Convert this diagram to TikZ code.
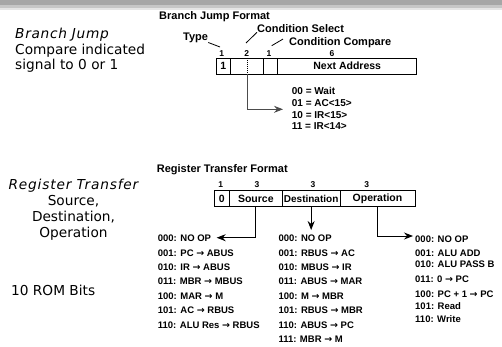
\documentclass[tikz,border=0pt]{standalone}
\usepackage{fontspec}
\setmainfont{Liberation Sans}
\newfontfamily\handfont{DejaVu Sans}
\newfontfamily\arrowfont{DejaVu Sans}
\usetikzlibrary{arrows.meta, positioning}
\newcommand{\toarr}{{\arrowfont\bfseries →}}

\begin{document}
\begin{tikzpicture}[
    x=1pt, y=-1pt,
    field/.style={draw, line width=0.9pt, minimum height=16pt, inner sep=0pt, font=\fontsize{10.5}{12}\selectfont\bfseries},
    bits/.style={anchor=base, inner sep=0pt, font=\fontsize{8.5}{10}\selectfont\bfseries},
    title/.style={anchor=base west, inner sep=0pt, font=\fontsize{11}{13}\selectfont\bfseries},
    codes/.style={anchor=north west, align=left, inner sep=0pt, font=\fontsize{9.5}{14.4}\selectfont\bfseries},
    note/.style={inner sep=0pt, font=\handfont\fontsize{13.7}{15.5}\selectfont},
    lead/.style={line width=0.8pt},
    arrow/.style={-{Stealth[length=9pt, width=7pt, inset=3pt]}, line width=0.9pt}
]
\fill[white] (0,0) rectangle (502,346);
\useasboundingbox (0,0) rectangle (502,346);

% slide band
\fill[gray!70] (0,0) rectangle (502,5);
\fill[gray!45] (0,5) rectangle (502,8);
\fill[gray!20] (0,8) rectangle (502,10);

% Left notes
\node[note, anchor=north west, align=left] (bjnote) at (15,27.9) {{\itshape\addfontfeature{LetterSpace=5}Branch Jump}\\Compare indicated\\signal to 0 or 1};
\node[note, anchor=north, align=center, font=\handfont\fontsize{13.7}{16.2}\selectfont] (rtnote) at (73.5,178.6) {{\itshape\addfontfeature{LetterSpace=6}Register Transfer}\\Source,\\Destination,\\Operation};
\node[note, anchor=base west] (rombits) at (11,295.7) {10 ROM Bits};

% Branch Jump Format
\node[title] (bjtitle) at (159,19) {Branch Jump Format};
\node[title] (type) at (183,40) {Type};
\node[title] (csel) at (257,32) {Condition Select};
\node[title] (ccmp) at (289,45.5) {Condition Compare};

\node[bits] (bj1) at (221.7,56.3) {1};
\node[bits] (bj2) at (246.7,56.3) {2};
\node[bits] (bj3) at (269,56.3) {1};
\node[bits] (bj4) at (332,56.3) {6};

\node[field, minimum width=14.7pt, minimum height=15.7pt] (b1) at (223.35,66.15) {1};
\node[field, minimum width=32.6pt, minimum height=15.7pt] (b2) at (247,66.15) {};
\node[field, minimum width=14.4pt, minimum height=15.7pt] (b3) at (270.5,66.15) {};
\node[field, minimum width=139pt, minimum height=15.7pt] (b4) at (347.2,66.15) {Next Address};

\coordinate (typeend) at (220,47);
\coordinate (cselend) at (246,43);
\coordinate (ccmpend) at (271.7,45.7);
\draw[lead] (type.south east) -- (typeend);
\draw[lead] (csel.south west) -- (cselend);
\draw[lead] ([xshift=-6pt, yshift=3.6pt]ccmp.west) -- (ccmpend);

\node[codes, font=\fontsize{10}{11.7}\selectfont\bfseries] (cond) at (291.7,87.4) {00 = Wait\\01 = AC<15>\\10 = IR<15>\\11 = IR<14>};

\coordinate (condtip) at (283,109.3);
\draw[dash pattern=on 1pt off 1pt, line width=0.8pt] (b2.north) -- (b2.south);
\draw[arrow, color=black!70] (b2.south) |- (condtip);

% Register Transfer Format
\node[title] (rttitle) at (156.7,172) {Register Transfer Format};

\node[bits] (rt1) at (220.7,187.3) {1};
\node[bits] (rt2) at (257,187.3) {3};
\node[bits] (rt3) at (313,187.3) {3};
\node[bits] (rt4) at (366.7,187.3) {3};

\node[field, minimum width=15pt] (r1) at (221.8,198.7) {0};
\node[field, minimum width=53pt] (r2) at (255.8,198.7) {Source};
\node[field, minimum width=57.7pt, font=\fontsize{10}{12}\selectfont\bfseries] (r3) at (311.15,198.7) {Destination};
\node[field, minimum width=75pt] (r4) at (377.5,198.7) {Operation};

\node[codes] (srclist) at (157.7,234.9) {000: NO OP\\001: PC \toarr{} ABUS\\010: IR \toarr{} ABUS\\011: MBR \toarr{} MBUS\\100: MAR \toarr{} M\\101: AC \toarr{} RBUS\\110: ALU Res \toarr{} RBUS};
\node[codes] (dstlist) at (278.3,234.9) {000: NO OP\\001: RBUS \toarr{} AC\\010: MBUS \toarr{} IR\\011: ABUS \toarr{} MAR\\100: M \toarr{} MBR\\101: RBUS \toarr{} MBR\\110: ABUS \toarr{} PC\\111: MBR \toarr{} M};
\node[codes, font=\fontsize{9.5}{12.5}\selectfont\bfseries] (oplist) at (415,235.3) {000: NO OP\\[1.5pt]001: ALU ADD\\[-1.5pt]010: ALU PASS B\\[3pt]011: 0 \toarr{} PC\\[2pt]100: PC + 1 \toarr{} PC\\101: Read\\110: Write};

\coordinate (srctip) at (216.7,237.7);
\coordinate (dsttip) at (311.15,230);
\coordinate (optip) at (413,236);
\draw[arrow] (r2.south) |- (srctip);
\draw[arrow] (r3.south) -- (dsttip);
\draw[arrow] (r4.south) |- (optip);

\end{tikzpicture}
\end{document}
